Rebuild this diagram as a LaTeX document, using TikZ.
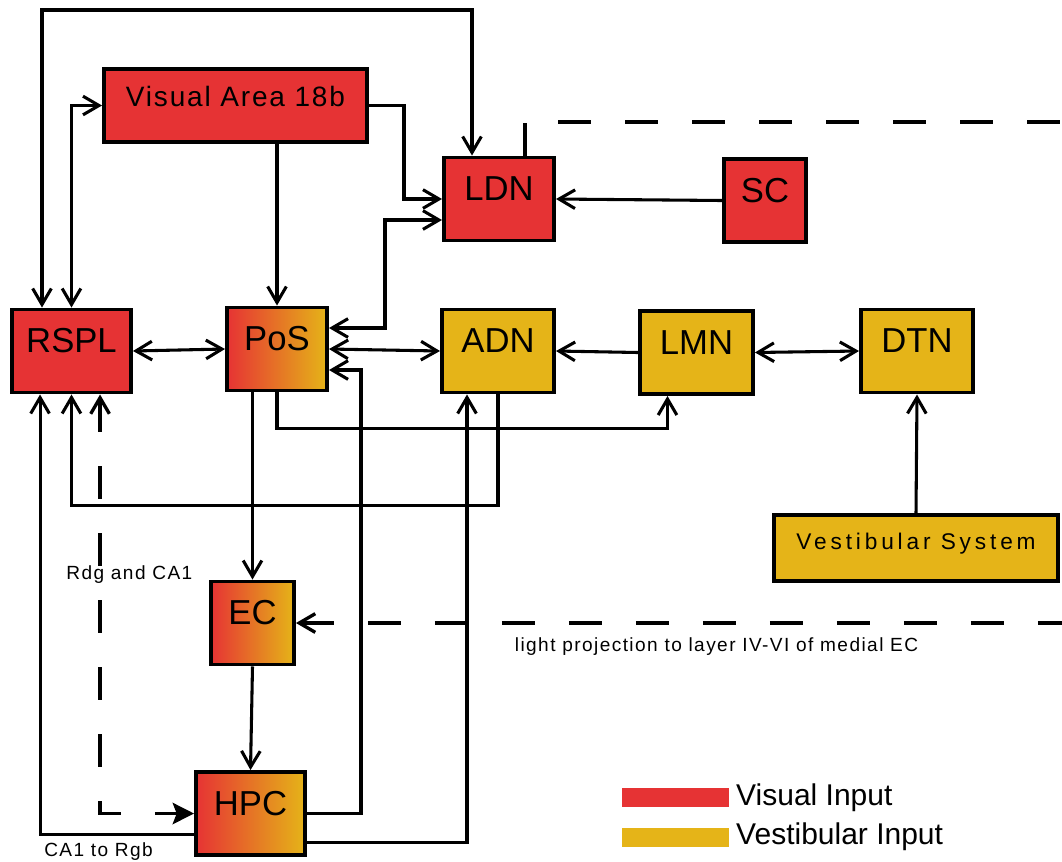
\documentclass[tikz,border=0pt]{standalone}
\usepackage{fontspec}
\setmainfont{Liberation Sans}
\usetikzlibrary{arrows.meta,calc}
\definecolor{visred}{HTML}{E63334}
\definecolor{vesyel}{HTML}{E5B418}

\begin{document}
\begin{tikzpicture}[x=0.75pt,y=-0.75pt,
  box/.style={draw=black, line width=2.8pt, rectangle, inner xsep=0pt, inner ysep=0pt,
    font=\fontsize{26}{30}\selectfont, text height=32.4pt, text depth=30pt},
  vis/.style={box, fill=visred},
  ves/.style={box, fill=vesyel},
  mix/.style={box, left color=visred, right color=vesyel},
  arr/.style={line width=2.3pt, -{Straight Barb[length=12pt,width=14pt]}},
  biarr/.style={line width=2.3pt, {Straight Barb[length=12pt,width=14pt]}-{Straight Barb[length=12pt,width=14pt]}},
  dashln/.style={line width=2.5pt, dash pattern=on 24.75pt off 25.5pt},
  lbl/.style={font=\fontsize{14.3}{16}\selectfont\addfontfeature{LetterSpace=7.5}, inner sep=0pt},
  legbox/.style={minimum width=80.25pt, minimum height=14.25pt, inner sep=0pt},
  legtxt/.style={font=\fontsize{22.5}{26}\selectfont, inner sep=0pt, anchor=west}]
  \useasboundingbox (0,0) rectangle (1062,861);

  % Areas
  \node[vis, minimum width=197.4pt, text height=28.5pt, text depth=26.4pt,
    font=\fontsize{21}{25}\selectfont\addfontfeature{LetterSpace=6.5}] (va) at (235.5,105.5) {Visual Area 18b};
  \node[vis, minimum width=82.7pt] (ldn) at (499,199) {LDN};
  \node[vis, minimum width=61.7pt] (sc) at (765,200.5) {SC};
  \node[vis, minimum width=89.4pt] (rspl) at (71.5,351) {RSPL};
  \node[mix, minimum width=75.2pt] (pos) at (277,349) {PoS};
  \node[ves, minimum width=84.2pt] (adn) at (498,351) {ADN};
  \node[ves, minimum width=84.9pt] (lmn) at (696.5,352.5) {LMN};
  \node[ves, minimum width=84.2pt] (dtn) at (917,351) {DTN};
  \node[mix, minimum width=62.4pt] (ec) at (252.5,623) {EC};
  \node[mix, minimum width=81.9pt] (hpc) at (250.5,813.5) {HPC};
  \node[ves, minimum width=213.2pt, text height=25.7pt, text depth=24pt,
    font=\fontsize{17}{20}\selectfont\addfontfeature{LetterSpace=17}] (vest) at (916,548) {Vestibular System};

  % Top loop
  \coordinate (tl) at (42,10);
  \coordinate (tr) at (472,10);
  \draw[biarr] (rspl.north -| tl) -- (tl) -- (tr) -- (ldn.north -| tr);

  % Visual pathway
  \draw[biarr] (rspl.north) |- (va.west);
  \draw[arr] (va.east) -- ++(35,0) |- (ldn.west);
  \draw[arr] (va.south -| pos.north) -- (pos.north);
  \draw[biarr] ($(pos.east)+(0,-21)$) -- ++(56,0) |- ($(ldn.west)+(0,21)$);
  \draw[arr] (sc.west) -- (ldn.east);
  \coordinate (dashend) at (1062,122);
  \draw[dashln] ($(ldn.north west)+(83,0)$) |- (dashend);

  % Middle row
  \draw[biarr] (rspl.east) -- (pos.west);
  \draw[biarr] (pos.east) -- (adn.west);
  \draw[arr] (lmn.west) -- (adn.east);
  \draw[biarr] (lmn.east) -- (dtn.west);
  \draw[arr] (vest.north) -- (dtn.south);
  \draw[arr] (pos.south) -- ++(0,36) -| ($(lmn.south)+(-29,0)$);
  \draw[arr] (adn.south) -- ++(0,111) -| (rspl.south);

  % Hippocampal loop
  \draw[arr] (pos.south -| ec.north) -- (ec.north);
  \draw[arr] (ec.south) -- (hpc.north);
  \draw[arr] (hpc.east) -- ++(54,0) |- ($(pos.east)+(0,21)$);
  \draw[arr] ($(hpc.east)+(0,29)$) -| ($(adn.south)+(-31,0)$);
  \draw[arr] ($(hpc.west)+(0,21)$) -| node[lbl, pos=.31, yshift=-12.75pt] {CA1 to Rgb}
    ($(rspl.south west)+(30,0)$);
  \draw[dashln, {Straight Barb[length=12pt,width=14pt]}-{Stealth[length=16pt,width=16pt,inset=3pt]}]
    ($(rspl.south west)+(90,0)$) |- node[lbl, pos=.215, xshift=22pt] {Rdg and CA1} (hpc.west);
  \coordinate (lightend) at (1062,623);
  \draw[dashln, {Straight Barb[length=12pt,width=14pt]}-] (ec.east) --
    node[lbl, pos=.549, yshift=-18pt] {light projection to layer IV-VI of medial EC} (lightend);

  % Legend
  \node[legbox, fill=visred] (visleg) at (675.5,797.5) {};
  \node[legtxt] (vistxt) at ([xshift=5pt]visleg.east) {Visual Input};
  \node[legbox, fill=vesyel] (vesleg) at (675.5,837) {};
  \node[legtxt] (vestxt) at ([xshift=5pt]vesleg.east) {Vestibular Input};
\end{tikzpicture}
\end{document}
